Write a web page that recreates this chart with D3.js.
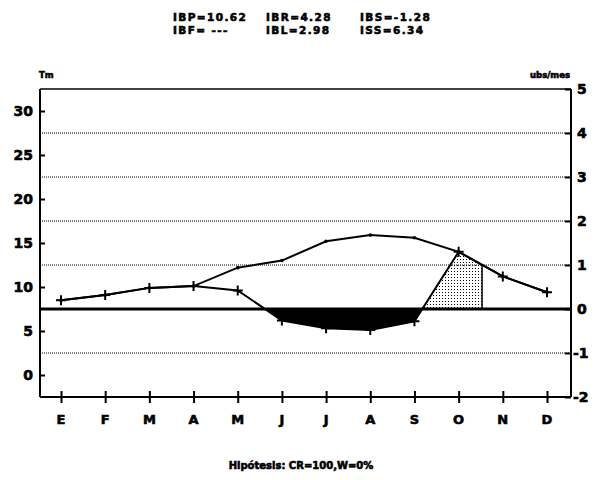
<!DOCTYPE html>
<html>
<head>
<meta charset="utf-8">
<script src="https://cdn.jsdelivr.net/npm/d3@7"></script>
<style>
  body { margin: 0; background: #fff; }
  svg text { font-family: "DejaVu Sans", sans-serif; font-weight: bold; fill: #000; stroke: #000; stroke-width: 0.6px; }
</style>
</head>
<body>
<svg id="chart" width="601" height="480"></svg>
<script>
// data
const months = ["E", "F", "M", "A", "M", "J", "J", "A", "S", "O", "N", "D"];
const potential = [8.5, 9.1, 9.9, 10.1, 12.2, 13.0, 15.2, 15.9, 15.6, 14.0, 11.2, 9.4];
const real = [8.5, 9.1, 9.9, 10.1, 9.6, 6.2, 5.3, 5.1, 6.1, 14.0, 11.2, 9.4];
const threshold = 7.5;
const surplusEnd = 9.53;   // month index where the dotted area stops
const leftTicks = [0, 5, 10, 15, 20, 25, 30];
const rightTicks = [-2, -1, 0, 1, 2, 3, 4, 5];
const gridTicks = [-1, 1, 2, 3, 4];
const indexRow1 = ["IBP=10.62", "IBR=4.28", "IBS=-1.28"];
const indexRow2 = ["IBF= ---", "IBL=2.98", "ISS=6.34"];

const plotLeft = 40, plotRight = 571, plotTop = 89, plotBottom = 397;

const svg = d3.select("#chart");

const xScale = d3.scaleLinear().domain([0, 11]).range([61, 547]);
const yLeft = d3.scaleLinear().domain([-2.5, 32.5]).range([plotBottom, plotTop]);
const yRight = d3.scaleLinear().domain([-2, 5]).range([plotBottom, plotTop]);

// dotted fill pattern
const pat = svg.append("defs").append("pattern")
    .attr("id", "dots")
    .attr("patternUnits", "userSpaceOnUse")
    .attr("width", 3).attr("height", 3);
pat.append("rect").attr("x", 1).attr("y", 1).attr("width", 1).attr("height", 1).attr("fill", "#000");

// header indices
const cols = [173, 266, 360];
[indexRow1, indexRow2].forEach((row, r) => {
    svg.selectAll(null)
        .data(row)
        .join("text")
        .attr("x", (d, i) => cols[i])
        .attr("y", r == 0 ? 21 : 34)
        .style("font-size", "10.5px")
        .style("letter-spacing", "1.4px")
        .text(d => d);
});

// dotted grid lines
svg.selectAll(".grid")
    .data(gridTicks)
    .join("line")
    .attr("class", "grid")
    .attr("x1", plotLeft).attr("x2", plotRight)
    .attr("y1", d => yRight(d)).attr("y2", d => yRight(d))
    .attr("stroke", "#000")
    .attr("stroke-width", 1)
    .attr("stroke-dasharray", "1,1");

// crossing of the threshold between month i and i+1
function crossing(vals, i) {
    const a = vals[i], b = vals[i + 1];
    return i + (threshold - a) / (b - a);
}

// black deficit area (real below threshold)
let defPts = [];
for (let i = 0; i < real.length; i++) {
    if (i > 0 && (real[i - 1] - threshold) * (real[i] - threshold) < 0 && real[i] < threshold) {
        defPts.push([crossing(real, i - 1), threshold]);
    }
    if (real[i] < threshold) defPts.push([i, real[i]]);
    if (i < real.length - 1 && real[i] < threshold && real[i + 1] > threshold) {
        defPts.push([crossing(real, i), threshold]);
    }
}
svg.append("path")
    .datum(defPts)
    .attr("d", d3.area()
        .x(d => xScale(d[0]))
        .y0(yLeft(threshold))
        .y1(d => yLeft(d[1])))
    .attr("fill", "#000");

// dotted surplus area
const c = crossing(real, 8);
const t = surplusEnd - 9;
const endVal = real[9] + (real[10] - real[9]) * t;
const surplus = [[c, threshold], [9, real[9]], [surplusEnd, endVal], [surplusEnd, threshold]];
svg.append("path")
    .datum(surplus)
    .attr("d", d3.line().x(d => xScale(d[0])).y(d => yLeft(d[1])))
    .attr("fill", "url(#dots)")
    .attr("stroke", "none");
svg.append("line")
    .attr("x1", xScale(surplusEnd)).attr("x2", xScale(surplusEnd))
    .attr("y1", yLeft(endVal)).attr("y2", yLeft(threshold))
    .attr("stroke", "#000").attr("stroke-width", 1.5);

// threshold line
svg.append("line")
    .attr("x1", plotLeft).attr("x2", plotRight)
    .attr("y1", yLeft(threshold)).attr("y2", yLeft(threshold))
    .attr("stroke", "#000").attr("stroke-width", 3);

// lines
const line = d3.line().x((d, i) => xScale(i)).y(d => yLeft(d));
svg.append("path").datum(potential).attr("d", line)
    .attr("fill", "none").attr("stroke", "#000").attr("stroke-width", 2);
svg.append("path").datum(real).attr("d", line)
    .attr("fill", "none").attr("stroke", "#000").attr("stroke-width", 2);

svg.selectAll(".vtx")
    .data(potential)
    .join("circle")
    .attr("class", "vtx")
    .attr("cx", (d, i) => xScale(i)).attr("cy", d => yLeft(d))
    .attr("r", 1.8).attr("fill", "#000");

// + markers on real series
svg.selectAll(".mark")
    .data(real)
    .join("path")
    .attr("class", "mark")
    .attr("d", (d, i) => {
        const x = xScale(i), y = yLeft(d);
        return "M" + (x - 5) + "," + y + "H" + (x + 5) + "M" + x + "," + (y - 5) + "V" + (y + 5);
    })
    .attr("stroke", "#000").attr("stroke-width", 2);

// frame
svg.append("line").attr("x1", plotLeft).attr("x2", plotRight).attr("y1", plotTop).attr("y2", plotTop)
    .attr("stroke", "#000").attr("stroke-width", 1.5);
svg.append("line").attr("x1", plotLeft).attr("x2", plotRight).attr("y1", plotBottom).attr("y2", plotBottom)
    .attr("stroke", "#000").attr("stroke-width", 2);

// axes
const leftAxis = d3.axisRight(yLeft).tickValues(leftTicks).tickSize(5).tickFormat("");
const gL = svg.append("g").attr("transform", "translate(" + plotLeft + ",0)").call(leftAxis);
gL.select(".domain").remove();
gL.selectAll("line").attr("stroke-width", 2);
svg.append("line").attr("x1", plotLeft).attr("x2", plotLeft).attr("y1", plotTop).attr("y2", plotBottom)
    .attr("stroke", "#000").attr("stroke-width", 2);
svg.selectAll(".ltick")
    .data(leftTicks)
    .join("text")
    .attr("class", "ltick")
    .attr("x", 33).attr("y", d => yLeft(d) + 5)
    .attr("text-anchor", "end")
    .style("font-size", "14px")
    .text(d => d);

const rightAxis = d3.axisLeft(yRight).tickValues(rightTicks).tickSize(6).tickFormat("");
const gR = svg.append("g").attr("transform", "translate(" + plotRight + ",0)").call(rightAxis);
gR.select(".domain").remove();
gR.selectAll("line").attr("stroke-width", 2);
svg.append("line").attr("x1", plotRight).attr("x2", plotRight).attr("y1", plotTop).attr("y2", plotBottom)
    .attr("stroke", "#000").attr("stroke-width", 2);
svg.selectAll(".rtick")
    .data(rightTicks)
    .join("text")
    .attr("class", "rtick")
    .attr("x", d => d < 0 ? 573 : 577).attr("y", d => yRight(d) + 5)
    .style("font-size", "14px")
    .text(d => d < 0 ? "-" + Math.abs(d) : d);

const bottomAxis = d3.axisBottom(xScale).tickValues(d3.range(12)).tickSize(6).tickFormat("");
const gB = svg.append("g").attr("transform", "translate(0," + plotBottom + ")").call(bottomAxis);
gB.select(".domain").remove();
gB.selectAll("line").attr("y1", -6).attr("stroke-width", 2);
svg.selectAll(".month")
    .data(months)
    .join("text")
    .attr("class", "month")
    .attr("x", (d, i) => xScale(i)).attr("y", 424)
    .attr("text-anchor", "middle")
    .style("font-size", "13px")
    .text(d => d);

// axis captions
svg.append("text").attr("x", 39).attr("y", 78).style("font-size", "8.5px").text("Tm");
svg.append("text").attr("x", 570).attr("y", 78).attr("text-anchor", "end")
    .style("font-size", "8.5px").text("ubs/mes");

svg.append("text").attr("x", 301).attr("y", 469).attr("text-anchor", "middle")
    .style("font-size", "10px").text("Hipótesis: CR=100,W=0%");
</script>
</body>
</html>
